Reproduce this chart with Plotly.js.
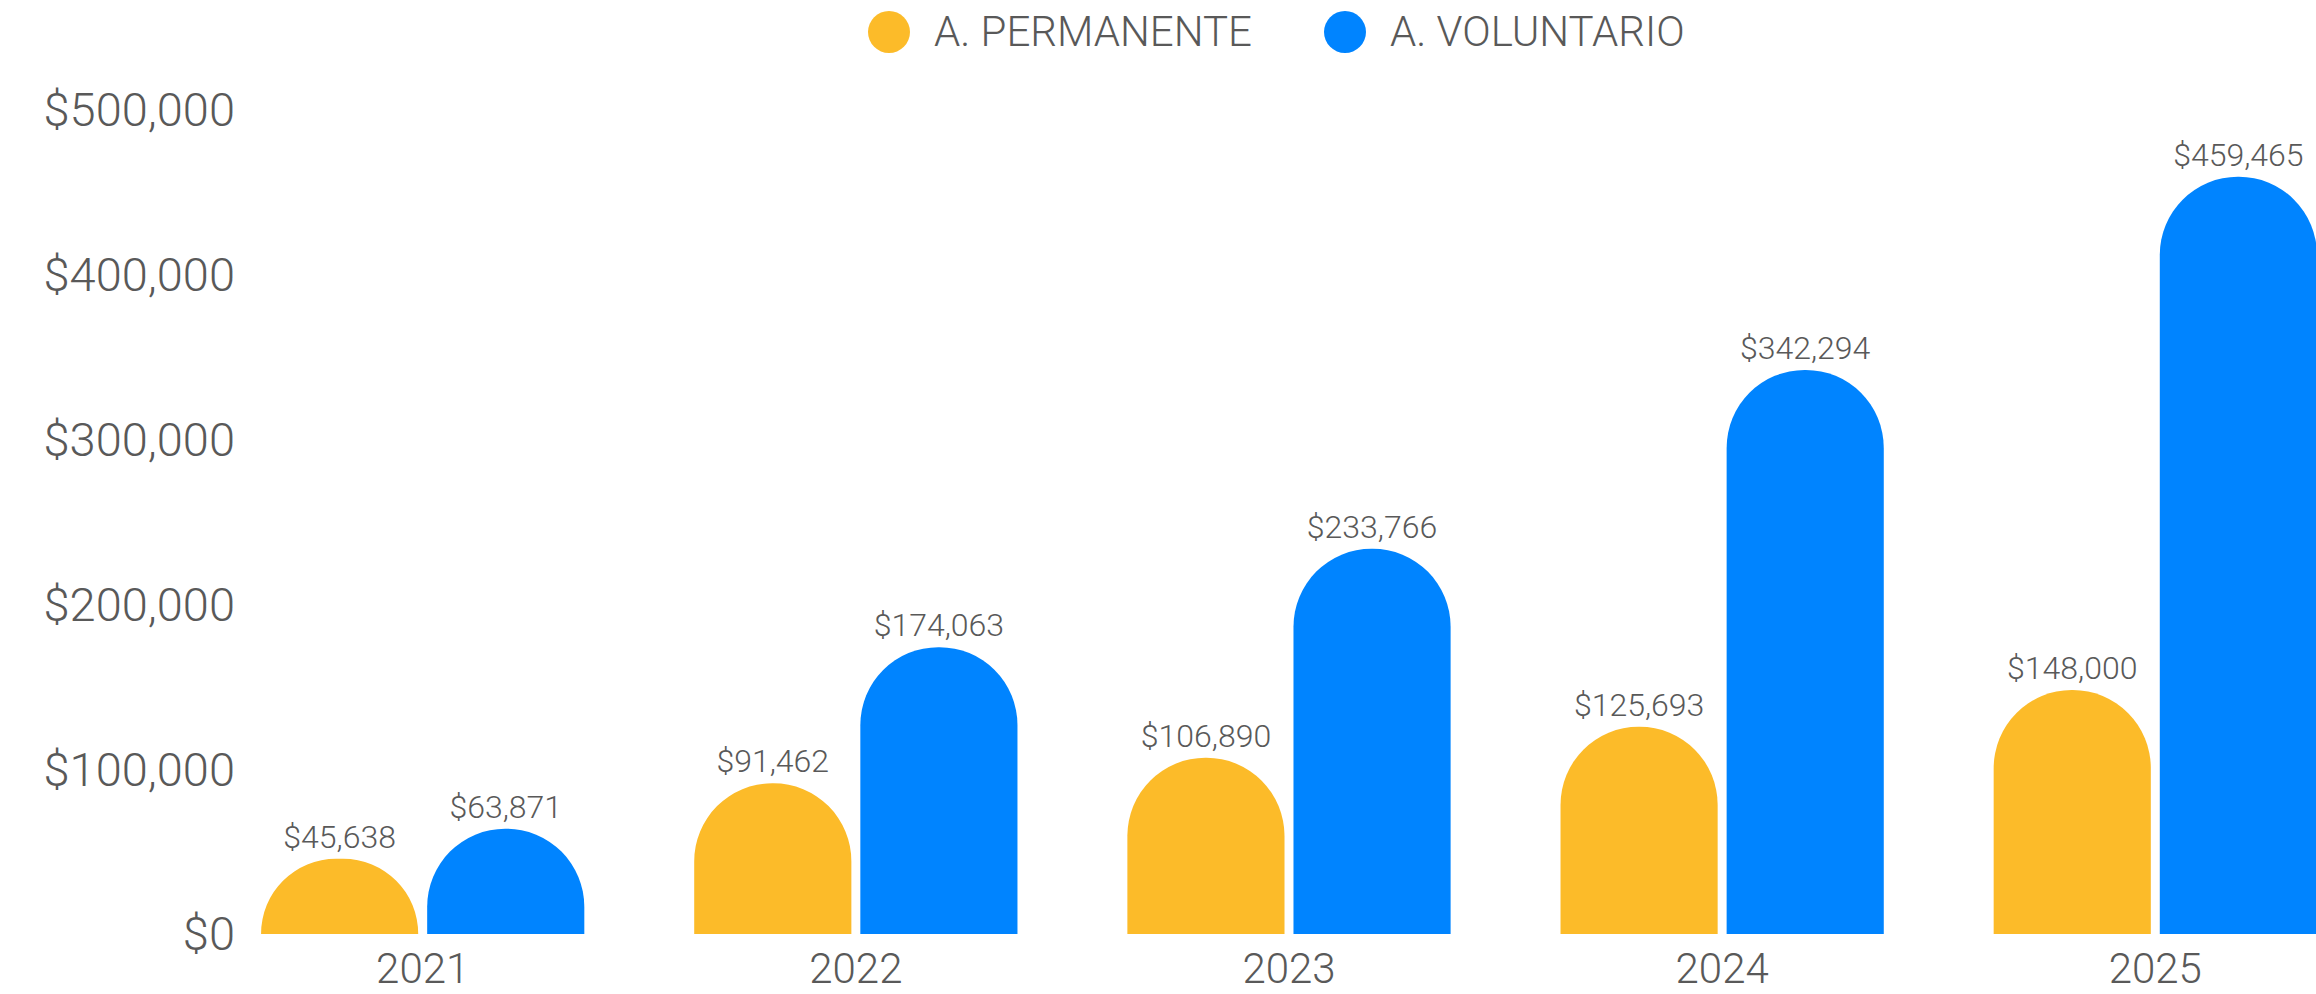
<!DOCTYPE html>
<html>
<head>
<meta charset="utf-8">
<script src="https://cdn.plot.ly/plotly-3.0.1.min.js"></script>
<style>
html,body{margin:0;padding:0;background:#fff;}
#chart{width:2316px;height:994px;}
</style>
</head>
<body>
<div id="chart"></div>
<script>
// ---- data ----
const years = ['2021', '2022', '2023', '2024', '2025'];
const seriesNames = ['A. PERMANENTE', 'A. VOLUNTARIO'];
const permanente = [45638, 91462, 106890, 125693, 148000];
const voluntario = [63871, 174063, 233766, 342294, 459465];
const seriesColors = ['#FCBB29', '#0084FF'];

// ---- layout constants ----
const W = 2316, H = 994;
const M = {l: 236, r: 0, t: 110, b: 60};
const textColor = '#595959';
const fontFam = 'Roboto, "Open Sans", sans-serif';
const fw = 300;

const pw = W - M.l - M.r, ph = H - M.t - M.b;
const px2paperX = p => (p - M.l) / pw;
const px2paperY = p => (H - M.b - p) / ph;

const traces = [permanente, voluntario].map((vals, i) => ({
  type: 'bar',
  name: seriesNames[i],
  x: years,
  y: vals,
  marker: {color: seriesColors[i]},
  texttemplate: '$%{y:,.0f}',
  textposition: 'outside',
  textfont: {family: fontFam, size: 32, color: textColor, weight: fw},
  cliponaxis: false,
  showlegend: false,
  hoverinfo: 'x+y'
}));

// custom legend (big circles)
const legendCircleX = [889, 1345];
const legendTextX = [932, 1388];
const legendY = 32;
const shapes = seriesNames.map((n, i) => ({
  type: 'circle',
  xref: 'paper', yref: 'paper',
  xsizemode: 'pixel', ysizemode: 'pixel',
  xanchor: px2paperX(legendCircleX[i]),
  yanchor: px2paperY(legendY),
  x0: -21, x1: 21, y0: -21, y1: 21,
  fillcolor: seriesColors[i],
  line: {width: 0}
}));
const annotations = seriesNames.map((n, i) => ({
  text: n,
  xref: 'paper', yref: 'paper',
  x: px2paperX(legendTextX[i]),
  y: px2paperY(legendY),
  xanchor: 'left', yanchor: 'middle',
  showarrow: false,
  font: {family: fontFam, size: 42, color: textColor, weight: fw}
}));

const layout = {
  width: W, height: H,
  margin: M,
  paper_bgcolor: '#fff', plot_bgcolor: '#fff',
  font: {family: fontFam, color: textColor},
  barmode: 'group',
  bargap: 0.233,
  bargroupgap: 0.054,
  barcornerradius: '50%',
  showlegend: false,
  xaxis: {
    type: 'category',
    range: [-0.431, 4.371],
    showgrid: false, zeroline: false, showline: false,
    ticks: '',
    ticklabelstandoff: 6,
    tickfont: {family: fontFam, size: 42, color: textColor, weight: fw}
  },
  yaxis: {
    range: [0, 500000],
    dtick: 100000,
    tickprefix: '$',
    tickformat: ',.0f',
    showgrid: false, zeroline: false, showline: false,
    ticks: '',
    tickfont: {family: fontFam, size: 47, color: textColor, weight: fw}
  },
  shapes: shapes,
  annotations: annotations
};

Plotly.newPlot('chart', traces, layout, {displayModeBar: false, staticPlot: true});
</script>
</body>
</html>
